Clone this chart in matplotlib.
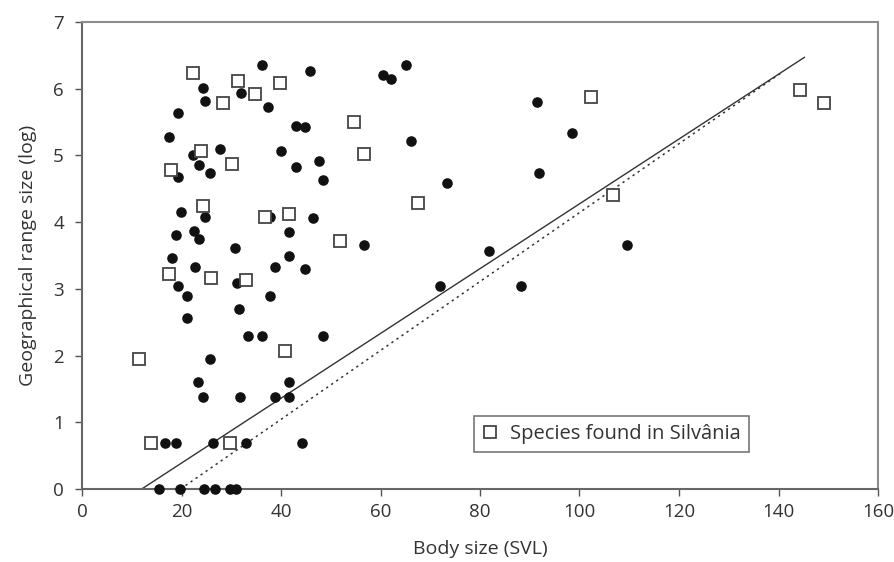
import matplotlib
matplotlib.use("Agg")
import matplotlib.pyplot as plt
from matplotlib.lines import Line2D

plt.rcParams['font.family'] = ['Open Sans', 'DejaVu Sans']

# Data: all species (filled circles)
dots_x = [36.1, 24.3, 31.9, 24.8, 37.3, 19.3, 17.4, 27.8, 39.9, 22.4, 23.5, 25.8, 19.3, 19.9, 24.8,
          18.8, 22.6, 23.6, 30.8, 18.0, 37.8, 22.8, 38.8, 19.3, 21.2, 31.2, 37.7, 31.6, 21.2, 33.3,
          36.2, 25.7, 23.3, 24.3, 31.8, 38.8, 16.6, 18.8, 26.3, 32.9, 15.5, 19.7, 24.5, 26.7, 29.7,
          30.9, 45.8, 60.6, 62.1, 65.1, 43.0, 44.8, 66.1, 43.1, 47.6, 48.5, 73.3, 46.4, 41.7, 41.7,
          56.7, 44.8, 48.4, 71.9, 41.7, 41.7, 44.2, 91.4, 98.5, 91.9, 81.8, 88.2, 109.5]
dots_y = [6.36, 6.01, 5.94, 5.81, 5.73, 5.63, 5.28, 5.10, 5.06, 5.00, 4.85, 4.74, 4.68, 4.15, 4.08,
          3.81, 3.86, 3.74, 3.61, 3.47, 4.08, 3.33, 3.33, 3.05, 2.89, 3.09, 2.89, 2.70, 2.56, 2.30,
          2.30, 1.95, 1.60, 1.38, 1.38, 1.38, 0.69, 0.69, 0.69, 0.69, 0.0, 0.0, 0.0, 0.0, 0.0,
          0.0, 6.26, 6.21, 6.14, 6.36, 5.44, 5.43, 5.21, 4.83, 4.91, 4.63, 4.59, 4.06, 3.85, 3.50,
          3.66, 3.30, 2.30, 3.05, 1.60, 1.38, 0.69, 5.80, 5.34, 4.74, 3.56, 3.05, 3.66]

# Species found in Silvania (open squares)
sq_x = [11.5, 13.9, 17.5, 17.9, 22.4, 23.9, 24.3, 25.9, 28.3, 29.8, 30.2, 31.3, 32.9, 34.8, 36.8,
        39.8, 40.9, 41.7, 51.9, 54.7, 56.7, 67.6, 102.4, 106.8, 144.4, 149.1]
sq_y = [1.95, 0.69, 3.22, 4.78, 6.23, 5.07, 4.24, 3.17, 5.79, 0.69, 4.87, 6.12, 3.13, 5.92, 4.08,
        6.08, 2.07, 4.12, 3.71, 5.50, 5.02, 4.29, 5.88, 4.41, 5.98, 5.79]

# Regression lines (endpoints)
solid_x = [12.0, 145.2]
solid_y = [0.0, 6.47]
dotted_x = [19.8, 140.6]
dotted_y = [0.0, 6.24]

fig = plt.figure(figsize=(8.95, 5.62), dpi=100)
ax = fig.add_axes([82/895, 1 - 489/562, (878-82)/895, (489-22)/562])

ax.plot(solid_x, solid_y, color='#333333', lw=1.0, zorder=2)
ax.plot(dotted_x, dotted_y, color='#333333', lw=1.1, ls=(0, (1.5, 2.5)), zorder=2)

ax.plot(dots_x, dots_y, 'o', color='#111111', ms=6.6, mec='#111111', zorder=3, clip_on=False)
ax.plot(sq_x, sq_y, 's', mfc='white', mec='#444444', mew=1.3, ms=9.2, zorder=4, clip_on=False)

ax.set_xlim(0, 160)
ax.set_ylim(0, 7)
ax.set_xticks(range(0, 161, 20))
ax.set_yticks(range(0, 8))

for s in ax.spines.values():
    s.set_color('#8c8c8c')
    s.set_linewidth(1.5)
ax.spines['left'].set_color('#666666')
ax.spines['bottom'].set_color('#666666')

ax.tick_params(direction='out', length=5, width=1.0, color='#555555', labelsize=13.5,
               labelcolor='#333333', pad=5)
ax.tick_params(axis='y', pad=8)

ax.set_xlabel('Body size (SVL)', fontsize=14, color='#333333', labelpad=14)
ax.set_ylabel('Geographical range size (log)', fontsize=14, color='#333333', labelpad=12)

handle = Line2D([], [], marker='s', ls='none', mfc='white', mec='#444444', mew=1.3, ms=9.2)
leg = ax.legend([handle], ['Species found in Silvânia'], loc='upper left',
                bbox_to_anchor=((474-82)/(878-82), (489-416)/(489-22)),
                frameon=True, fancybox=False, fontsize=14.5, handlelength=0.8,
                handletextpad=0.6, borderpad=0.4, borderaxespad=0)
leg.get_frame().set_edgecolor('#555555')
leg.get_frame().set_linewidth(1.2)
for t in leg.get_texts():
    t.set_color('#333333')

fig.savefig('out.png', dpi=100)
